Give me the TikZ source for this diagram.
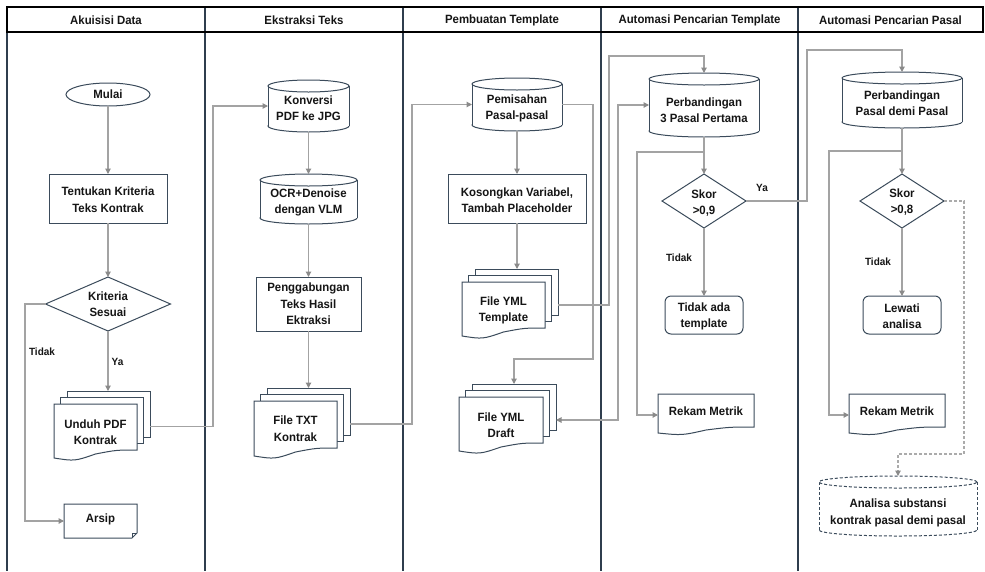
\documentclass[tikz,border=0pt]{standalone}
\usepackage{fontspec}
\setmainfont{Liberation Sans}[FakeStretch=0.95]
\usetikzlibrary{arrows.meta,shapes.geometric}
\definecolor{shpc}{HTML}{3B4B5B}
\definecolor{lanec}{HTML}{2F3E4E}
\definecolor{connc}{HTML}{A3A3A3}
\definecolor{tipc}{HTML}{8A8A8A}
\definecolor{dashc}{HTML}{ABABAB}
\definecolor{txtc}{HTML}{151515}

% cylinder: [style]{name}{x1}{y1}{x2}{y2}
\newcommand\cylshape[6][]{%
  \pgfmathsetmacro\zCX{(#3+#5)/2}%
  \pgfmathsetmacro\zCY{(#4+#6)/2}%
  \pgfmathsetmacro\zRX{(#5-#3)/2}%
  \pgfmathsetmacro\zW{#5-#3}%
  \pgfmathsetmacro\zH{#6-#4}%
  \pgfmathsetmacro\zYa{#4+6}%
  \pgfmathsetmacro\zYb{#6-6}%
  \draw[shp,fill=white,#1] (\zCX,\zYb) ellipse [x radius=\zRX pt, y radius=6pt];
  \fill[white] (#3,\zYa) rectangle (#5,\zYb);
  \draw[shp,#1] (#3,\zYa) -- (#3,\zYb) (#5,\zYa) -- (#5,\zYb);
  \draw[shp,fill=white,#1] (\zCX,\zYa) ellipse [x radius=\zRX pt, y radius=6pt];
  \node[box, minimum width=\zW pt, minimum height=\zH pt] (#2) at (\zCX,\zCY) {};
}
% document outline: {x1}{y1}{x2}{yr}{drop}
\newcommand\docpath[5]{%
  \pgfmathsetmacro\zW{#3-#1}%
  \pgfmathsetmacro\zCX{(#1+#3)/2}%
  \pgfmathsetmacro\zQa{#3-\zW/4}%
  \pgfmathsetmacro\zQb{#1+\zW/4}%
  \pgfmathsetmacro\zYm{#4+#5/2}%
  \pgfmathsetmacro\zYl{#4+#5}%
  \pgfmathsetmacro\zYq{#4+#5*1.4}%
  \draw[shp,fill=white] (#1,#2) -- (#3,#2) -- (#3,#4) .. controls (\zQa,#4) .. (\zCX,\zYm) .. controls (\zQb,\zYq) .. (#1,\zYl) -- cycle;
}
% single document: {name}{x1}{y1}{x2}{yr}
\newcommand\sdoc[5]{%
  \docpath{#2}{#3}{#4}{#5}{6}%
  \pgfmathsetmacro\zW{#4-#2}%
  \pgfmathsetmacro\zH{#5+9-#3}%
  \pgfmathsetmacro\zCX{(#2+#4)/2}%
  \pgfmathsetmacro\zCY{(#3+#5+9)/2}%
  \node[box, minimum width=\zW pt, minimum height=\zH pt] (#1) at (\zCX,\zCY) {};
}
% multi document: {name}{x1}{y1}{x2}{yr}
\newcommand\mdoc[5]{%
  \pgfmathsetmacro\zW{#4-#2}%
  \pgfmathsetmacro\zH{#5-#3}%
  \pgfmathsetmacro\zCX{(#2+#4)/2}%
  \pgfmathsetmacro\zCY{(#3+#5)/2}%
  \node[rectbox, minimum width=\zW pt, minimum height=\zH pt] (#1-b2) at (\zCX+13,\zCY-13) {};
  \node[rectbox, minimum width=\zW pt, minimum height=\zH pt] (#1-b1) at (\zCX+6.5,\zCY-6.5) {};
  \docpath{#2}{#3}{#4}{#5}{8}%
  \pgfmathsetmacro\zW{#4-#2}%
  \pgfmathsetmacro\zH{#5-#3}%
  \pgfmathsetmacro\zCX{(#2+#4)/2}%
  \pgfmathsetmacro\zCY{(#3+#5)/2}%
  \node[box, minimum width=\zW pt, minimum height=\zH pt] (#1) at (\zCX,\zCY) {};
}

\begin{document}
\begin{tikzpicture}[x=1pt,y=-1pt,
  shp/.style={draw=shpc, line width=1pt},
  box/.style={rectangle, inner sep=0pt, outer sep=0pt},
  rectbox/.style={box, shp, fill=white},
  rrect/.style={rectbox, rounded corners=6pt},
  dia/.style={diamond, shp, fill=white, inner sep=0pt, outer sep=0pt},
  elli/.style={ellipse, shp, fill=white, inner sep=0pt, outer sep=0pt},
  txt/.style={font=\bfseries\fontsize{12}{16.3}\selectfont, align=center, text=txtc, inner sep=0pt},
  lbl/.style={font=\bfseries\fontsize{10.5}{12}\selectfont, text=txtc, inner sep=0pt},
  tipa/.tip={Triangle[length=5.5pt,width=5.5pt,color=tipc]},
  conn/.style={draw=connc, line width=1.1pt, -tipa},
  conntwo/.style={draw=connc, line width=1.1pt, tipa-tipa},
  connd/.style={draw=dashc, line width=1.1pt, dash pattern=on 3pt off 2pt, -tipa},
  lane/.style={draw=lanec, line width=1.8pt}]
\useasboundingbox (0,0) rectangle (985,571);

% lanes and header
\foreach \lx in {7,205,403,601,798} \draw[lane] (\lx,7) -- (\lx,571);
\draw[black, line width=1.2pt] (7,7) rectangle (983,32);
\node[txt] (h1) at (106,20) {Akuisisi Data};
\node[txt] (h2) at (304,20) {Ekstraksi Teks};
\node[txt] (h3) at (502,20) {Pembuatan Template};
\node[txt] (h4) at (699.5,20) {Automasi Pencarian Template};
\node[txt] (h5) at (890.5,20) {Automasi Pencarian Pasal};

% ---------- lane 1
\node[elli, minimum width=84pt, minimum height=23pt] (mulai) at (108,94.5) {};
\node[txt] (mulai-t) at (108,94.5) {Mulai};
\node[rectbox, minimum width=118pt, minimum height=49pt] (tentukan) at (108,198.5) {};
\node[txt] (tentukan-t) at (108,199.7) {Tentukan Kriteria\\Teks Kontrak};
\node[dia, minimum width=125pt, minimum height=54pt] (kriteria) at (108,304) {};
\node[txt] (kriteria-t) at (108,304) {Kriteria\\Sesuai};
\mdoc{unduh}{54}{404}{137}{450}
\node[txt] (unduh-t) at (95.5,432.5) {Unduh PDF\\Kontrak};
\draw[shp, fill=white] (64,504) -- (137,504) -- (137,533) -- (132,538) -- (64,538) -- cycle;
\draw[shp] (137,533) -- (132,533) -- (132,538);
\node[box, minimum width=73pt, minimum height=34pt] (arsip) at (100.5,521) {};
\node[txt] (arsip-t) at (100.5,519.5) {Arsip};

% ---------- lane 2
\cylshape{konv}{268}{80}{349}{132}
\node[txt] (konv-t) at (308.5,108.5) {Konversi\\PDF ke JPG};
\cylshape{ocr}{260}{174}{357}{224}
\node[txt] (ocr-t) at (308.5,202.7) {OCR+Denoise\\dengan VLM};
\node[rectbox, minimum width=105pt, minimum height=54pt] (pengg) at (308.5,304) {};
\node[txt] (pengg-t) at (308.5,304) {Penggabungan\\Teks Hasil\\Ektraksi};
\mdoc{ftxt}{254}{401}{337}{448}
\node[txt] (ftxt-t) at (295.5,428.7) {File TXT\\Kontrak};

% ---------- lane 3
\cylshape{pemis}{472}{78}{562}{131}
\node[txt] (pemis-t) at (517,108.7) {Pemisahan\\Pasal-pasal};
\node[rectbox, minimum width=138pt, minimum height=49pt] (kosong) at (517,198.5) {};
\node[txt] (kosong-t) at (517,200.3) {Kosongkan Variabel,\\Tambah Placeholder};
\mdoc{ymlt}{462}{282}{545}{328}
\node[txt] (ymlt-t) at (503.5,310.5) {File YML\\Template};
\mdoc{draft}{459}{397}{543}{443}
\node[txt] (draft-t) at (501,425) {File YML\\Draft};

% ---------- lane 4
\cylshape{perb3}{649}{73}{759}{137}
\node[txt] (perb3-t) at (704,110) {Perbandingan\\3 Pasal Pertama};
\node[dia, minimum width=84pt, minimum height=54pt] (skor1) at (704,201) {};
\node[txt] (skor1-t) at (704,203) {Skor\\>0,9};
\node[rrect, minimum width=78pt, minimum height=38pt] (tidakada) at (704,315) {};
\node[txt] (tidakada-t) at (704,316.3) {Tidak ada\\template};
\sdoc{rekam1}{658}{394}{754}{427}
\node[txt] (rekam1-t) at (706,411.7) {Rekam Metrik};

% ---------- lane 5
\cylshape{perbp}{842}{72}{962}{128}
\node[txt] (perbp-t) at (902,103.3) {Perbandingan\\Pasal demi Pasal};
\node[dia, minimum width=84pt, minimum height=54pt] (skor2) at (902,201) {};
\node[txt] (skor2-t) at (902,202) {Skor\\>0,8};
\node[rrect, minimum width=78pt, minimum height=38pt] (lewati) at (902,315) {};
\node[txt] (lewati-t) at (902,316.3) {Lewati\\analisa};
\sdoc{rekam2}{849}{394}{945}{427}
\node[txt] (rekam2-t) at (897,411.7) {Rekam Metrik};
\cylshape[dash pattern=on 3pt off 2pt]{analisa}{819}{476}{977}{536}
\node[txt] (analisa-t) at (898,513) {Analisa substansi\\kontrak pasal demi pasal};

% ---------- connectors
\draw[conn] (mulai.south) -- (tentukan.north);
\draw[conn] (tentukan.south) -- (kriteria.north);
\draw[conn] (kriteria.south) -- (kriteria.south |- unduh-b2.north);
\draw[conn] (kriteria.west) -- ++(-20.5,0) |- (arsip.west);
\node[lbl] (tidak1) at (42,352) {Tidak};
\node[lbl] (ya1) at (117.5,362) {Ya};
\draw[conn] ([yshift=-12.5pt]unduh-b2.east) -- ++(63,0) |- (konv.west);

\draw[conn] (konv.south) -- (ocr.north);
\draw[conn] (ocr.south) -- (pengg.north);
\draw[conn] (pengg.south) -- (pengg.south |- ftxt-b2.north);
\draw[conn] ([yshift=-12.5pt]ftxt-b2.east) -- ++(62,0) |- (pemis.west);

\draw[conn] (pemis.south) -- (kosong.north);
\draw[conn] (kosong.south) -- (kosong.south |- ymlt-b2.north);
\draw[conn] (pemis.east) -- ++(31,0) -- ++(0,254.5) -| (draft-b2.north);
\draw[conn] ([yshift=-13pt]ymlt-b2.east) -- ++(51,0) -- ++(0,-249) -| (perb3.north);
\draw[conntwo] ([yshift=-13pt]draft-b2.east) -- ++(62,0) |- (perb3.west);

\draw[conn] (perb3.south) -- (skor1.north);
\draw[conn] (perb3.south) -- ++(0,15) -- ++(-67,0) |- (rekam1.west);
\draw[conn] (skor1.south) -- (tidakada.north);
\draw[conn] (skor1.east) -- ++(61,0) -- ++(0,-151) -| (perbp.north);
\node[lbl] (tidak2) at (679,258) {Tidak};
\node[lbl] (ya2) at (762,188) {Ya};

\draw[conn] (perbp.south) -- (skor2.north);
\draw[conn] (perbp.south) -- ++(0,23) -- ++(-73,0) |- (rekam2.west);
\draw[conn] (skor2.south) -- (lewati.north);
\node[lbl] (tidak3) at (878,262) {Tidak};
\draw[connd] (skor2.east) -- ++(20,0) -- ++(0,253) -| (analisa.north);
\end{tikzpicture}
\end{document}
